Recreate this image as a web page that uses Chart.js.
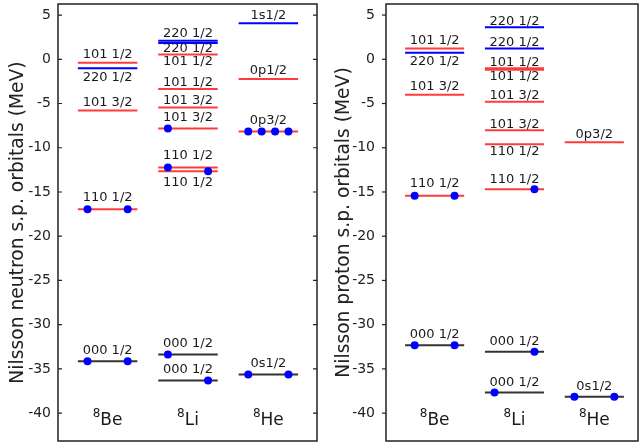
<!DOCTYPE html>
<html>
<head>
<meta charset="utf-8">
<script src="https://cdn.jsdelivr.net/npm/chart.js@4.4.1/dist/chart.umd.min.js"></script>
<style>
  html, body { margin: 0; padding: 0; background: #fff; }
  #wrap { position: relative; width: 642px; height: 445px; }
  #wrap canvas { position: absolute; top: 0; }
</style>
</head>
<body>
<div id="wrap">
  <canvas id="neutronChart" width="321" height="445" style="left:0"></canvas>
  <canvas id="protonChart" width="321" height="445" style="left:321px"></canvas>
</div>
<script>
const nuclei = ["Be", "Li", "He"];
const massNumber = "8";
const yTicks = [-40, -35, -30, -25, -20, -15, -10, -5, 0, 5];

// neutron levels: nucleus index, energy (MeV), major shell N
const neutronLevelNuc = [0, 0, 0, 0, 0, 1, 1, 1, 1, 1, 1, 1, 1, 1, 1, 2, 2, 2, 2];
const neutronLevelE = [-0.38, -1.02, -5.79, -16.96, -34.13, 2.1, 1.85, 0.55, -3.35, -5.45, -7.82, -12.22, -12.67, -33.37, -36.3, 4.06, -2.22, -8.16, -35.63];
const neutronLevelN = [1, 2, 1, 1, 0, 2, 2, 1, 1, 1, 1, 1, 1, 0, 0, 2, 1, 1, 0];
// neutron level names
const neutronLabelNuc = [0, 0, 0, 0, 0, 1, 1, 1, 1, 1, 1, 1, 1, 1, 1, 2, 2, 2, 2];
const neutronLabelText = ["101 1/2", "220 1/2", "101 3/2", "110 1/2", "000 1/2",
  "220 1/2", "220 1/2", "101 1/2", "101 1/2", "101 3/2", "101 3/2", "110 1/2", "110 1/2", "000 1/2", "000 1/2",
  "1s1/2", "0p1/2", "0p3/2", "0s1/2"];
const neutronLabelE = [0.56, -2.03, -4.89, -15.67, -32.96, 2.9, 1.16, -0.28, -2.59, -4.7, -6.65, -10.9, -13.98, -32.13, -35.1, 4.99, -1.32, -6.92, -34.39];
// occupied neutrons: nucleus index, energy, slot along the level
const neutronDotNuc = [0, 0, 0, 0, 1, 1, 1, 1, 1, 2, 2, 2, 2, 2, 2];
const neutronDotE = [-16.96, -16.96, -34.13, -34.13, -7.82, -12.22, -12.67, -33.37, -36.3, -8.16, -8.16, -8.16, -8.16, -35.63, -35.63];
const neutronDotSlot = [-3, 3, -3, 3, -3, -3, 3, -3, 3, -3, -1, 1, 3, -3, 3];

// proton levels
const protonLevelNuc = [0, 0, 0, 0, 0, 1, 1, 1, 1, 1, 1, 1, 1, 1, 1, 2, 2];
const protonLevelE = [1.22, 0.73, -4.0, -15.43, -32.34, 3.63, 1.22, -1.02, -1.18, -4.79, -8.03, -9.6, -14.68, -33.05, -37.68, -9.38, -38.16];
const protonLevelN = [1, 2, 1, 1, 0, 2, 2, 1, 1, 1, 1, 1, 1, 0, 0, 1, 0];
const protonLabelNuc = [0, 0, 0, 0, 0, 1, 1, 1, 1, 1, 1, 1, 1, 1, 1, 2, 2];
const protonLabelText = ["101 1/2", "220 1/2", "101 3/2", "110 1/2", "000 1/2",
  "220 1/2", "220 1/2", "101 1/2", "101 1/2", "101 3/2", "101 3/2", "110 1/2", "110 1/2", "000 1/2", "000 1/2",
  "0p3/2", "0s1/2"];
const protonLabelE = [2.08, -0.32, -3.06, -14.1, -31.17, 4.26, 1.89, -0.36, -1.94, -4.11, -7.38, -10.39, -13.58, -31.93, -36.5, -8.51, -36.96];
const protonDotNuc = [0, 0, 0, 0, 1, 1, 1, 2, 2];
const protonDotE = [-15.43, -15.43, -32.34, -32.34, -14.68, -33.05, -37.68, -38.16, -38.16];
const protonDotSlot = [-3, 3, -3, 3, 3, 3, -3, -3, 3];

const shellColors = ["#333333", "#ff3b3b", "#0000ff"]; // N = 0, 1, 2
const halfWidth = 0.37;
const slotStep = 1 / 12;
const fontFamily = "'DejaVu Sans', Verdana, sans-serif";

function makeDecor(cfg) {
  return {
    id: "panelDecor",
    afterDatasetsDraw(chart) {
      const { ctx, chartArea: a } = chart;
      const x = chart.scales.x;
      const y = chart.scales.y;
      ctx.save();

      // level names
      ctx.font = "13px " + fontFamily;
      ctx.fillStyle = "#1a1a1a";
      ctx.textAlign = "center";
      ctx.textBaseline = "middle";
      cfg.labelText.forEach((t, i) => {
        ctx.fillText(t, x.getPixelForValue(cfg.labelNuc[i] + 1), y.getPixelForValue(cfg.labelE[i]));
      });

      // nucleus names with superscript mass number
      ctx.textAlign = "left";
      ctx.textBaseline = "alphabetic";
      const base = a.bottom - 16.5;
      nuclei.forEach((name, i) => {
        const cx = x.getPixelForValue(i + 1);
        ctx.font = "12px " + fontFamily;
        const wSup = ctx.measureText(massNumber).width;
        ctx.font = "17px " + fontFamily;
        const wName = ctx.measureText(name).width;
        const left = cx - (wSup + wName) / 2;
        ctx.font = "12px " + fontFamily;
        ctx.fillText(massNumber, left, base - 7.5);
        ctx.font = "17px " + fontFamily;
        ctx.fillText(name, left + wSup, base);
      });

      // frame
      ctx.strokeStyle = "#222";
      ctx.lineWidth = 1.5;
      ctx.strokeRect(a.left, a.top, a.right - a.left, a.bottom - a.top);

      // tick marks
      ctx.lineWidth = 1.2;
      yTicks.forEach((v) => {
        const py = y.getPixelForValue(v);
        ctx.beginPath();
        if (cfg.ticksInside) {
          ctx.moveTo(a.left, py);
          ctx.lineTo(a.left + 4, py);
          ctx.moveTo(a.right, py);
          ctx.lineTo(a.right - 4, py);
        } else {
          ctx.moveTo(a.left, py);
          ctx.lineTo(a.left - 4, py);
        }
        ctx.stroke();
      });
      ctx.restore();
    }
  };
}

function makePanel(canvas, cfg) {
  const datasets = [];

  // occupation dots first so they are drawn on top
  datasets.push({
    data: cfg.dotE.map((e, i) => ({ x: cfg.dotNuc[i] + 1 + cfg.dotSlot[i] * slotStep, y: e })),
    showLine: false,
    pointRadius: 4,
    pointBackgroundColor: "#0000ff",
    pointBorderWidth: 0
  });

  cfg.levelE.forEach((e, i) => {
    const cx = cfg.levelNuc[i] + 1;
    datasets.push({
      data: [{ x: cx - halfWidth, y: e }, { x: cx + halfWidth, y: e }],
      showLine: true,
      borderColor: shellColors[cfg.levelN[i]],
      borderWidth: 2,
      pointRadius: 0
    });
  });

  return new Chart(canvas, {
    type: "scatter",
    data: { datasets },
    options: {
      responsive: false,
      animation: false,
      devicePixelRatio: 1,
      events: [],
      layout: { padding: { left: 0, top: 4, right: cfg.padRight, bottom: 3 } },
      plugins: {
        legend: { display: false },
        tooltip: { enabled: false }
      },
      scales: {
        x: { type: "linear", display: false, min: cfg.xMin, max: cfg.xMax },
        y: {
          type: "linear",
          min: -43.15,
          max: 6.25,
          afterBuildTicks: (s) => { s.ticks = yTicks.map((v) => ({ value: v })); },
          afterFit: (s) => {
            s.width = cfg.axisWidth;
            s.paddingTop = 0;
            s.paddingBottom = 0;
          },
          grid: { display: false, drawTicks: false },
          border: { display: false },
          ticks: {
            color: "#222",
            padding: cfg.tickPad,
            font: { family: fontFamily, size: 14 }
          },
          title: {
            display: true,
            text: cfg.title,
            color: "#222",
            padding: { top: cfg.titlePad, bottom: 0 },
            font: { family: fontFamily, size: 18.7 }
          }
        }
      }
    },
    plugins: [makeDecor(cfg)]
  });
}

makePanel(document.getElementById("neutronChart"), {
  title: "Nilsson neutron s.p. orbitals (MeV)",
  levelNuc: neutronLevelNuc, levelE: neutronLevelE, levelN: neutronLevelN,
  labelNuc: neutronLabelNuc, labelText: neutronLabelText, labelE: neutronLabelE,
  dotNuc: neutronDotNuc, dotE: neutronDotE, dotSlot: neutronDotSlot,
  xMin: 0.383, xMax: 3.605,
  axisWidth: 58, padRight: 2, tickPad: 7, titlePad: 7,
  ticksInside: true
});

makePanel(document.getElementById("protonChart"), {
  title: "Nilsson proton s.p. orbitals (MeV)",
  levelNuc: protonLevelNuc, levelE: protonLevelE, levelN: protonLevelN,
  labelNuc: protonLabelNuc, labelText: protonLabelText, labelE: protonLabelE,
  dotNuc: protonDotNuc, dotE: protonDotE, dotSlot: protonDotSlot,
  xMin: 0.391, xMax: 3.547,
  axisWidth: 65, padRight: 2, tickPad: 11, titlePad: 12,
  ticksInside: false
});
</script>
</body>
</html>
